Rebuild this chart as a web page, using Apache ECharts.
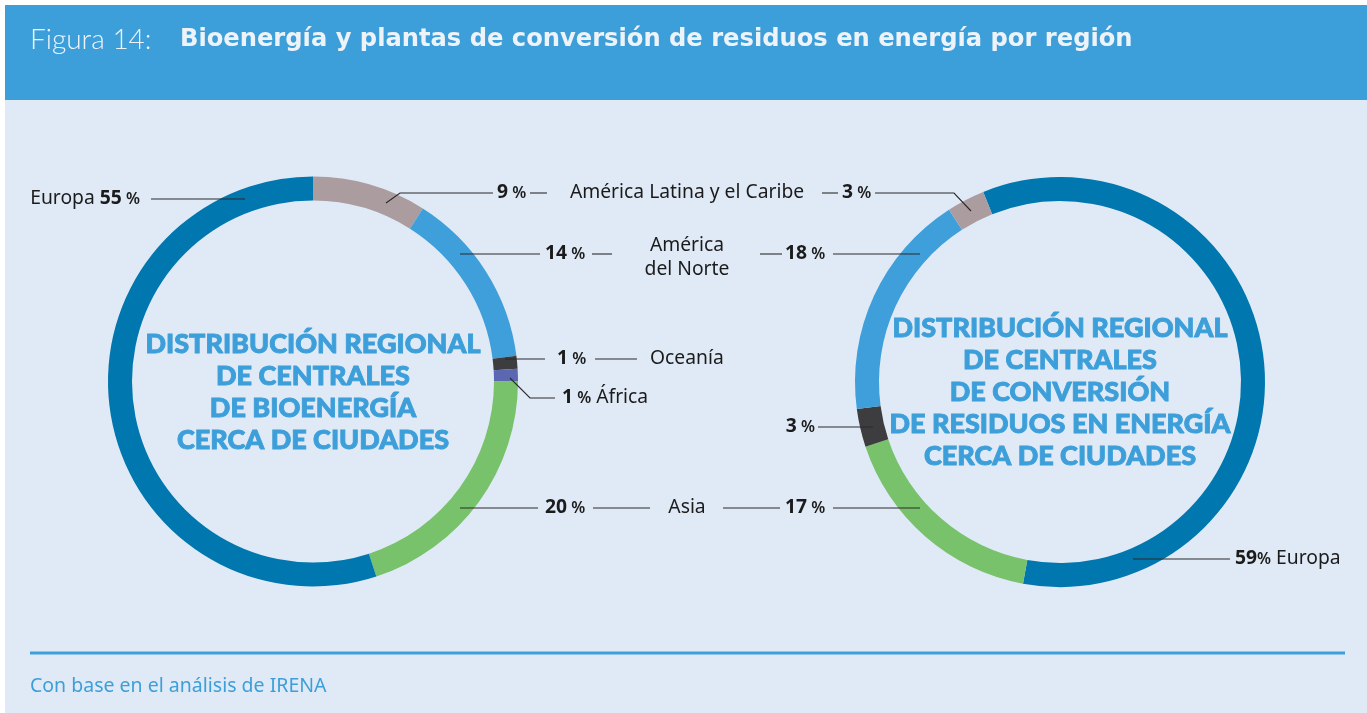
<!DOCTYPE html>
<html><head><meta charset="utf-8">
<script src="https://cdn.jsdelivr.net/npm/echarts@6/dist/echarts.min.js"></script>
<style>html,body{margin:0;padding:0;background:#fff}#c{width:1367px;height:713px}</style>
</head><body><div id="c"></div>
<script>
// ---- data ----
const leftRegions = ['América Latina y el Caribe', 'América del Norte', 'Oceanía', 'África', 'Asia', 'Europa'];
const leftShares = [9, 14, 1, 1, 20, 55];
const rightRegions = ['Europa', 'Asia', 'Oceanía y África', 'América del Norte', 'América Latina y el Caribe'];
const rightShares = [59, 17, 3, 18, 3];
const middleLabels = ['América Latina y el Caribe', 'América\ndel Norte', 'Oceanía', 'Asia'];
const leftTitle = 'DISTRIBUCIÓN REGIONAL\nDE CENTRALES\nDE BIOENERGÍA\nCERCA DE CIUDADES';
const rightTitle = 'DISTRIBUCIÓN REGIONAL\nDE CENTRALES\nDE CONVERSIÓN\nDE RESIDUOS EN ENERGÍA\nCERCA DE CIUDADES';

// ---- styles ----
const colorOf = {
  'Europa': '#0077ae',
  'América Latina y el Caribe': '#ab9ca0',
  'América del Norte': '#3e9fda',
  'Oceanía': '#3d3d3f',
  'Oceanía y África': '#3d3d3f',
  'África': '#5b67b1',
  'Asia': '#77c26b'
};
const BLUE = '#3d9fd9';
const INK = '#1b1b1b';
const LBL_FONT = '"Noto Sans", "Open Sans", sans-serif';
const FS = 19.3;

const chart = echarts.init(document.getElementById('c'), null, {renderer: 'canvas'});

function pieData(names, vals) {
  return names.map((n, i) => ({name: n, value: vals[i], itemStyle: {color: colorOf[n]}}));
}
function iOf(names, n) { return names.indexOf(n); }

const rich = {
  n: {fontFamily: LBL_FONT, fontSize: FS, fontWeight: 'bold', fill: INK, color: INK},
  p: {fontFamily: LBL_FONT, fontSize: 16, fontWeight: 600, fill: INK, color: INK},
  t: {fontFamily: LBL_FONT, fontSize: FS, fontWeight: 'normal', fill: INK, color: INK}
};
function pctText(v, sep) { return '{n|' + v + '}{p|' + (sep === undefined ? ' ' : sep) + '%}'; }
function txt(x, y, text, align, extra) {
  return Object.assign({
    type: 'text', z: 100,
    style: {x: x, y: y, text: text, rich: rich, align: align, textAlign: align,
      verticalAlign: 'middle', textVerticalAlign: 'middle', fill: INK,
      font: FS + 'px ' + LBL_FONT}
  }, extra || {});
}
function ln(x1, y1, x2, y2) {
  return {type: 'line', z: 100, shape: {x1: x1, y1: y1, x2: x2, y2: y2}, style: {stroke: '#2a2a2a', lineWidth: 1.1}};
}
function pl(points) {
  return {type: 'polyline', z: 100, shape: {points: points}, style: {stroke: '#2a2a2a', lineWidth: 1.1, fill: null}};
}

const L = leftShares, R = rightShares;
const li = n => L[iOf(leftRegions, n)];
const ri = n => R[iOf(rightRegions, n)];

const centreStyle = (x, text) => ({type: 'text', z: 5, style: {x: x, y: 392, text: text, fill: BLUE,
  stroke: BLUE, lineWidth: 0.9, font: '900 27px Lato, sans-serif',
  lineHeight: 32, align: 'center', textAlign: 'center', verticalAlign: 'middle', textVerticalAlign: 'middle'}});

const graphics = [
  {type: 'rect', z: -10, shape: {x: 5, y: 5, width: 1362, height: 708}, style: {fill: '#e0eaf6'}},
  {type: 'rect', z: -9, shape: {x: 5, y: 5, width: 1362, height: 95}, style: {fill: BLUE}},
  {type: 'text', z: 5, style: {x: 30, y: 40, text: 'Figura 14:', fill: '#eef3fa',
    font: '300 28px Lato, "Noto Sans", sans-serif', verticalAlign: 'middle', textVerticalAlign: 'middle'}},
  {type: 'text', z: 5, style: {x: 180, y: 40, text: 'Bioenergía y plantas de conversión de residuos en energía por región', fill: '#eef3fa',
    font: 'bold 24.2px "DejaVu Sans", sans-serif', verticalAlign: 'middle', textVerticalAlign: 'middle'}},
  // centre titles
  centreStyle(313, leftTitle),
  centreStyle(1060, rightTitle),
  // footer
  {type: 'rect', z: 5, shape: {x: 30, y: 651.5, width: 1315, height: 3}, style: {fill: BLUE}},
  {type: 'text', z: 5, style: {x: 30, y: 686, text: 'Con base en el análisis de IRENA', fill: BLUE,
    font: '19.5px "Noto Sans", sans-serif', verticalAlign: 'middle', textVerticalAlign: 'middle'}},

  // ---- left donut annotations ----
  txt(140, 199, '{t|Europa }' + pctText(li('Europa')), 'right'),
  ln(151, 199, 245, 199),
  pl([[386, 203], [400, 193], [493, 193]]),
  txt(497, 193, pctText(li('América Latina y el Caribe')), 'left'),
  ln(530, 193, 547, 193),
  ln(460, 254, 540, 254),
  txt(545, 254, pctText(li('América del Norte')), 'left'),
  ln(592, 254, 612, 254),
  ln(505, 359, 545, 359),
  txt(557, 359, pctText(li('Oceanía')), 'left'),
  ln(595, 359, 637, 359),
  pl([[510, 378], [530, 398], [555, 398]]),
  txt(562, 398, pctText(li('África')) + '{t| África}', 'left'),
  ln(460, 508, 538, 508),
  txt(545, 508, pctText(li('Asia')), 'left'),
  ln(593, 508, 650, 508),

  // ---- middle category names ----
  txt(687, 193, '{t|' + middleLabels[0] + '}', 'center'),
  {type: 'text', z: 100, style: {x: 687, y: 258, text: middleLabels[1], fill: INK, font: FS + 'px ' + LBL_FONT,
    lineHeight: 24, align: 'center', textAlign: 'center', verticalAlign: 'middle', textVerticalAlign: 'middle'}},
  txt(650, 359, '{t|' + middleLabels[2] + '}', 'left'),
  txt(687, 508, '{t|' + middleLabels[3] + '}', 'center'),

  // ---- right donut annotations ----
  ln(822, 193, 838, 193),
  txt(842, 193, pctText(ri('América Latina y el Caribe')), 'left'),
  pl([[875, 193], [954, 193], [971, 211]]),
  ln(760, 254, 782, 254),
  txt(785, 254, pctText(ri('América del Norte')), 'left'),
  ln(833, 254, 920, 254),
  txt(815, 427, pctText(ri('Oceanía y África')), 'right'),
  ln(818, 427, 873, 427),
  ln(723, 508, 780, 508),
  txt(785, 508, pctText(ri('Asia')), 'left'),
  ln(833, 508, 920, 508),
  ln(1133, 559, 1230, 559),
  txt(1235, 559, pctText(ri('Europa'), '') + '{t| Europa}', 'left')
];

chart.setOption({
  animation: false,
  backgroundColor: '#ffffff',
  graphic: {elements: graphics},
  series: [
    {
      type: 'pie', silent: true, center: [313, 381.5], radius: [181, 205],
      startAngle: 90, clockwise: true, label: {show: false}, labelLine: {show: false},
      itemStyle: {borderWidth: 0}, data: pieData(leftRegions, leftShares)
    },
    {
      type: 'pie', silent: true, center: [1060, 382], radius: [181, 205],
      startAngle: 112, clockwise: true, label: {show: false}, labelLine: {show: false},
      itemStyle: {borderWidth: 0}, data: pieData(rightRegions, rightShares)
    }
  ]
});
</script></body></html>
